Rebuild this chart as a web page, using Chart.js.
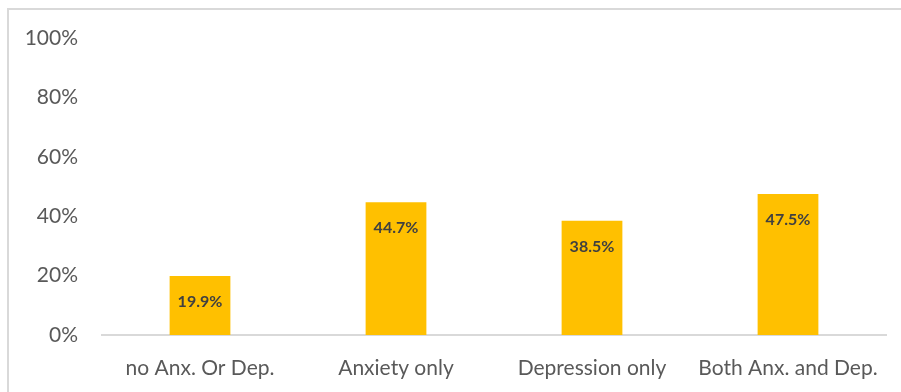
<!DOCTYPE html>
<html>
<head>
<meta charset="utf-8">
<script src="https://cdn.jsdelivr.net/npm/chart.js@4.4.1/dist/chart.umd.min.js"></script>
<style>
    html, body { margin: 0; padding: 0; background: #fff; }
    #wrap { position: relative; width: 901px; height: 392px; overflow: hidden; }
    #frame {
        position: absolute; left: 7px; top: 8px;
        width: 1000px; height: 500px;
        border-left: 2px solid #d9d9d9; border-top: 2px solid #d9d9d9;
    }
    #chart { position: absolute; left: 0; top: 0; }
</style>
</head>
<body>
<div id="wrap">
    <div id="frame"></div>
    <canvas id="chart" width="901" height="392"></canvas>
</div>
<script>
// Chart data
const categories = ['no Anx. Or Dep.', 'Anxiety only', 'Depression only', 'Both Anx. and Dep.'];
const percentValues = [19.9, 44.7, 38.5, 47.5];
const yTicks = [0, 20, 40, 60, 80, 100];

const FONT = 'Lato, "Open Sans", sans-serif';

// Draw value labels inside the top of each bar
const barLabels = {
    id: 'barLabels',
    afterDatasetsDraw(chart) {
        const ctx = chart.ctx;
        const meta = chart.getDatasetMeta(0);
        ctx.save();
        ctx.font = 'bold 16px ' + FONT;
        ctx.fillStyle = '#404040';
        ctx.textAlign = 'center';
        ctx.textBaseline = 'middle';
        meta.data.forEach(function(bar, i) {
            ctx.fillText(percentValues[i].toFixed(1) + '%', bar.x, bar.y + 26);
        });
        ctx.restore();
    }
};

new Chart(document.getElementById('chart').getContext('2d'), {
    type: 'bar',
    data: {
        labels: categories,
        datasets: [{
            data: percentValues,
            backgroundColor: '#FFC000',
            borderWidth: 0,
            categoryPercentage: 1,
            barPercentage: 0.31
        }]
    },
    options: {
        responsive: false,
        animation: false,
        layout: { padding: { top: 38, right: 15, left: 0, bottom: 0 } },
        plugins: {
            legend: { display: false },
            tooltip: { enabled: false }
        },
        scales: {
            x: {
                grid: { display: false },
                border: { display: true, color: '#d9d9d9', width: 2 },
                ticks: {
                    color: '#595959',
                    font: { family: FONT, size: 21 },
                    padding: 13,
                    maxRotation: 0,
                    autoSkip: false
                },
                afterFit(scale) { scale.height = 57; }
            },
            y: {
                min: 0,
                max: 100,
                grid: { display: false },
                border: { display: false },
                afterBuildTicks(scale) {
                    scale.ticks = yTicks.map(v => ({ value: v }));
                },
                ticks: {
                    color: '#595959',
                    font: { family: FONT, size: 21 },
                    padding: 16,
                    callback: v => v + '%'
                },
                afterFit(scale) { scale.width = 102; }
            }
        }
    },
    plugins: [barLabels]
});
</script>
</body>
</html>
